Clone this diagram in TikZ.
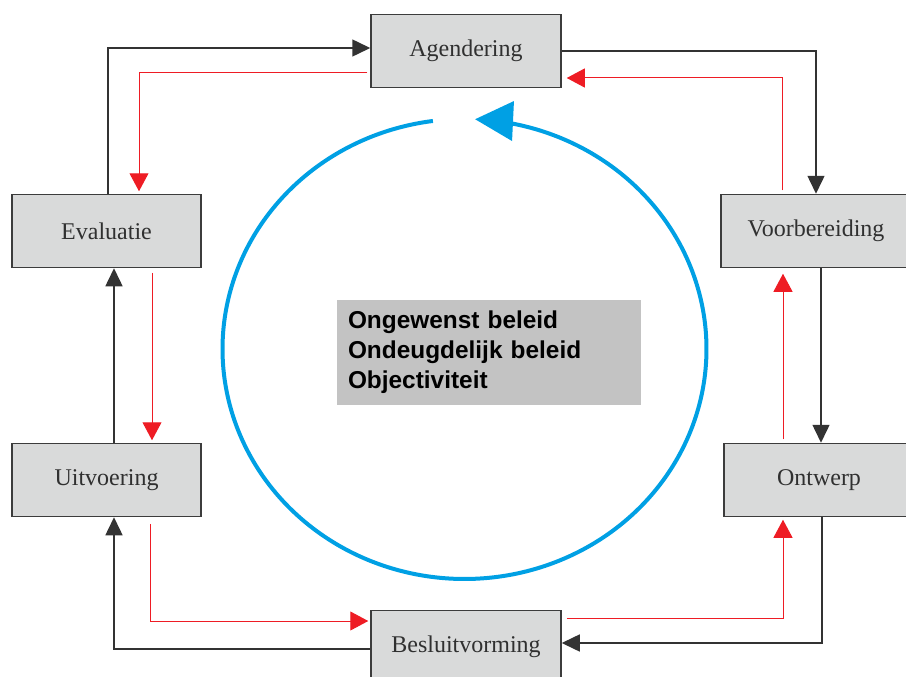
\documentclass[tikz,border=0pt]{standalone}
\usepackage{fontspec}
\setmainfont{Liberation Serif}
\newfontfamily\midfont{Liberation Sans}
\usetikzlibrary{arrows.meta}
\definecolor{boxfill}{RGB}{217,218,218}
\definecolor{boxline}{RGB}{60,60,60}
\definecolor{boxtext}{RGB}{48,48,48}
\definecolor{blkline}{RGB}{51,51,51}
\definecolor{redline}{RGB}{238,28,36}
\definecolor{cycleblue}{RGB}{0,160,228}
\definecolor{midfill}{RGB}{195,195,195}
\tikzset{
  phase/.style={draw=boxline, line width=1.5pt, fill=boxfill, rectangle,
    minimum width=190pt, minimum height=73pt, inner sep=0pt,
    text=boxtext, font=\fontsize{24}{28}\selectfont},
  blk/.style={draw=blkline, line width=1.5pt, -{Triangle[length=18pt,width=17pt]}},
  rd/.style={draw=redline, line width=1pt, -{Triangle[length=18pt,width=19pt]}},
}
\begin{document}
\begin{tikzpicture}[x=1pt,y=-1pt]
\useasboundingbox (0,0) rectangle (906,677);
\clip (0,0) rectangle (906,677);

% phase boxes
\node[phase] (ag) at (466,51) {Agendering};
\node[phase] (vb) at (816,231) {Voorbereiding};
\node[phase] (ow) at (819,480) {Ontwerp};
\node[phase] (bv) at (466,647) {Besluitvorming};
\node[phase, minimum width=189pt] (uv) at (106.5,480) {Uitvoering};
\node[phase, minimum width=189pt] (ev) at (106.5,231) {Evaluatie};

% central box
\node[rectangle, fill=midfill, text width=282pt, inner xsep=11pt, inner ysep=0pt,
  minimum height=105pt, align=left,
  font=\midfont\bfseries\fontsize{24.4}{30}\selectfont] (mid) at (489,352.5)
  {Ongewenst beleid\\Ondeugdelijk beleid\\Objectiviteit};

% blue cycle
\draw[cycleblue, line width=4pt, -{Triangle[length=38pt,width=39pt]}]
  plot[domain=97.5:447.5, samples=240, smooth] ({464.5+242*cos(\x)}, {349-230*sin(\x)});

% black connectors
\draw[blk] ([xshift=1.5pt]ev.north) |- ([yshift=3pt]ag.west);
\draw[blk] (ag.east) -| (vb.north);
\draw[blk] ([xshift=5pt]vb.south) -- ([xshift=2pt]ow.north);
\draw[blk] ([xshift=3pt]ow.south) |- ([yshift=4pt]bv.east);
\draw[blk] ([yshift=-2pt]bv.west) -| ([xshift=7.5pt]uv.south);
\draw[blk] ([xshift=7.5pt]uv.north) -- ([xshift=7.5pt]ev.south);

% red connectors
\draw[rd] ([xshift=-3pt,yshift=-22pt]ag.west) -| ([xshift=32.5pt,yshift=2.5pt]ev.north);
\draw[rd] ([xshift=-34pt,yshift=3.5pt]vb.north) |- ([xshift=5pt,yshift=-27pt]ag.east);
\draw[rd] ([xshift=-36pt,yshift=3.5pt]ow.north) -- ([xshift=-33pt,yshift=-5.5pt]vb.south);
\draw[rd] ([xshift=5pt,yshift=29pt]bv.east) -| ([xshift=-36pt,yshift=-2.5pt]ow.south);
\draw[rd] ([xshift=43.5pt,yshift=-6.5pt]uv.south) |- ([xshift=-2pt,yshift=26pt]bv.west);
\draw[rd] ([xshift=45.5pt,yshift=-4.5pt]ev.south) -- ([xshift=45.5pt,yshift=2.5pt]uv.north);
\end{tikzpicture}
\end{document}
